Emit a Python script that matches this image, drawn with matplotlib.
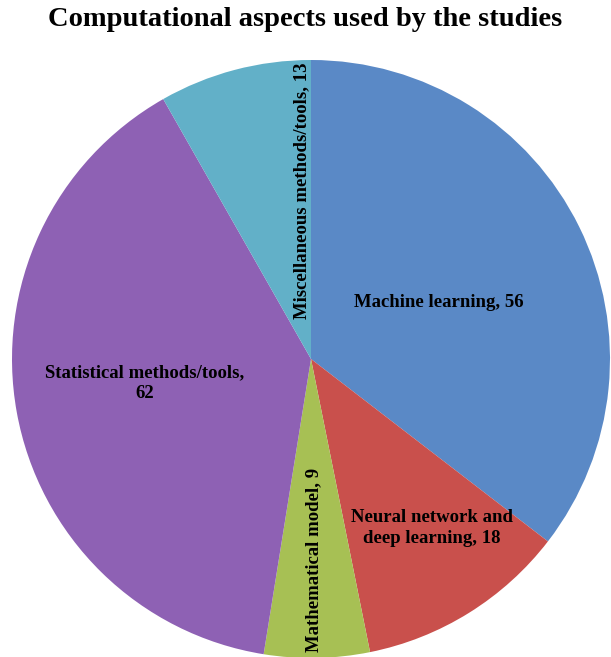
import numpy as np
import matplotlib.pyplot as plt

# data
labels = ['Machine learning, 56', 'Neural network and\ndeep learning, 18',
          'Mathematical model, 9', 'Statistical methods/tools,\n62',
          'Miscellaneous methods/tools, 13']
values = [56, 18, 9, 62, 13]
colors = ['#5A89C6', '#C9504C', '#A7C054', '#8E61B4', '#62B0C8']

# label placement (data coords, radius 1) and rotation
label_pos = [(0.428, 0.19), (0.405, -0.565), (0.008, -0.672), (-0.555, -0.08), (-0.03, 0.562)]
label_rot = [0, 0, 90, 0, 90]

plt.rcParams['font.family'] = ['Liberation Serif', 'DejaVu Serif']

fig = plt.figure(figsize=(6.11, 6.57), dpi=100)
ax = fig.add_axes([12 / 611, -1 / 657, 598 / 611, 598 / 657])
ax.pie(values, colors=colors, startangle=90, counterclock=False,
       wedgeprops=dict(linewidth=0))
for lab, (x, y), r in zip(labels, label_pos, label_rot):
    ax.text(x, y, lab, ha='center', va='center', rotation=r,
            fontsize=13.5, fontweight='bold', multialignment='center',
            linespacing=1.25)
ax.set_xlim(-1, 1)
ax.set_ylim(-1, 1)
ax.set_aspect('equal')
ax.axis('off')

fig.text(0.5, 0.971, 'Computational aspects used by the studies', ha='center', va='center',
         fontsize=20.5, fontweight='bold')

fig.savefig('out.png', dpi=100)
